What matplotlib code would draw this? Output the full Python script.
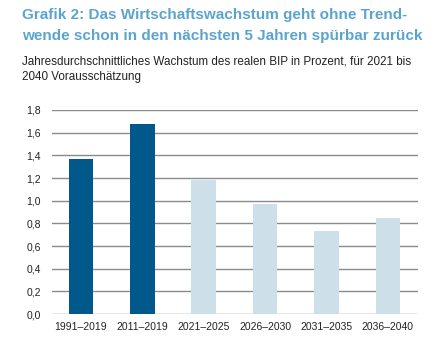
import matplotlib
matplotlib.use("Agg")
import matplotlib.pyplot as plt
from matplotlib.ticker import FuncFormatter

# Data
periods = ["1991–2019", "2011–2019", "2021–2025", "2026–2030", "2031–2035", "2036–2040"]
growth = [1.37, 1.68, 1.18, 0.97, 0.73, 0.85]
is_forecast = [False, False, True, True, True, True]
y_ticks = [0.0, 0.2, 0.4, 0.6, 0.8, 1.0, 1.2, 1.4, 1.6, 1.8]

DARK_BLUE = "#00598a"
LIGHT_BLUE = "#cddfe8"
TITLE_BLUE = "#5ba4cf"
GRID_GREY = "#8a8a8a"

plt.rcParams["font.family"] = ["Liberation Sans", "DejaVu Sans"]

fig = plt.figure(figsize=(4.32, 3.47), dpi=100)
ax = fig.add_axes([52 / 432, 1 - 314 / 347, 366 / 432, 204 / 347])

colors = [LIGHT_BLUE if f else DARK_BLUE for f in is_forecast]
x = range(len(periods))
for yt in y_ticks:
    ax.axhline(yt, color=GRID_GREY, linewidth=1.0, zorder=1)
ax.bar(x, growth, width=0.4, color=colors, zorder=2)

ax.set_xlim(-0.47, 5.49)
ax.set_ylim(0, 1.8)
ax.set_yticks(y_ticks)
ax.yaxis.set_major_formatter(FuncFormatter(lambda v, _: f"{v:.1f}".replace(".", ",")))
ax.set_xticks(list(x))
ax.set_xticklabels(periods)
ax.tick_params(axis="both", length=0, labelsize=7.5, colors="#222222")
ax.tick_params(axis="y", pad=8)
ax.tick_params(axis="x", pad=6)
for spine in ax.spines.values():
    spine.set_visible(False)

# Title and subtitle
fig.text(22 / 432, 1 - 8 / 347, "Grafik 2: Das Wirtschaftswachstum geht ohne Trend-", ha="left", va="top",
         fontsize=11.0, fontweight="bold", color=TITLE_BLUE)
fig.text(22 / 432, 1 - 29 / 347, "wende schon in den nächsten 5 Jahren spürbar zurück", ha="left", va="top",
         fontsize=11.0, fontweight="bold", color=TITLE_BLUE)
fig.text(22 / 432, 1 - 56 / 347, "Jahresdurchschnittliches Wachstum des realen BIP in Prozent, für 2021 bis",
         ha="left", va="top", fontsize=8.4, color="#222222")
fig.text(22 / 432, 1 - 71 / 347, "2040 Vorausschätzung",
         ha="left", va="top", fontsize=8.4, color="#222222")

fig.savefig("out.png", dpi=100)
